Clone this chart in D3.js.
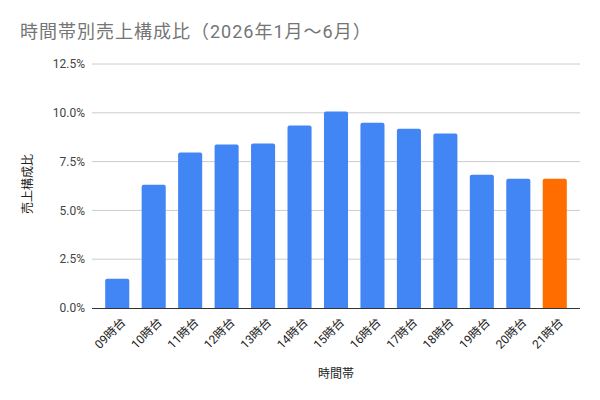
<!DOCTYPE html>
<html>
<head>
<meta charset="utf-8">
<script src="https://cdn.jsdelivr.net/npm/d3@7"></script>
<style>
  body { margin: 0; background: #fff; }
  svg { font-family: Roboto, "Noto Sans CJK JP", sans-serif; }
</style>
</head>
<body>
<div id="chart"></div>
<script>
// --- Données ---
const hours = ["09時台", "10時台", "11時台", "12時台", "13時台", "14時台", "15時台",
               "16時台", "17時台", "18時台", "19時台", "20時台", "21時台"];
const shares = [1.5, 6.31, 7.96, 8.37, 8.43, 9.35, 10.07, 9.49, 9.18, 8.94, 6.82, 6.62, 6.62];
const highlight = "21時台";
const yTicks = [0, 2.5, 5, 7.5, 10, 12.5];

const W = 600, H = 400;
const plot = { left: 92, right: 580, top: 64, bottom: 308 };

const svg = d3.select("#chart").append("svg")
  .attr("width", W).attr("height", H);

const x = d3.scaleBand()
  .domain(hours)
  .range([99, 573])
  .paddingInner(0.34)
  .paddingOuter(0.17);

const y = d3.scaleLinear()
  .domain([0, 12.5])
  .range([plot.bottom, plot.top]);

// Grille
svg.append("g")
  .selectAll("line")
  .data(yTicks.filter(d => d > 0))
  .join("line")
  .attr("x1", plot.left).attr("x2", plot.right)
  .attr("y1", d => y(d)).attr("y2", d => y(d))
  .attr("stroke", "#cccccc").attr("stroke-width", 1);

// Labels axe Y
svg.append("g")
  .selectAll("text")
  .data(yTicks)
  .join("text")
  .attr("x", 85)
  .attr("y", d => y(d))
  .attr("dy", "0.35em")
  .attr("text-anchor", "end")
  .style("font-size", "12px")
  .attr("fill", "#444")
  .text(d => d.toFixed(1) + "%");

// Barres
svg.append("g")
  .selectAll("path")
  .data(hours.map((h, i) => ({ h, v: shares[i] })))
  .join("path")
  .attr("d", d => {
    const x0 = x(d.h), w = x.bandwidth(), y0 = y(d.v), b = y(0), r = 2;
    return `M${x0},${b}V${y0 + r}Q${x0},${y0} ${x0 + r},${y0}H${x0 + w - r}Q${x0 + w},${y0} ${x0 + w},${y0 + r}V${b}Z`;
  })
  .attr("fill", d => d.h === highlight ? "#ff6d01" : "#4285f4");

// Ligne de base
svg.append("line")
  .attr("x1", plot.left).attr("x2", plot.right)
  .attr("y1", y(0) + 0.5).attr("y2", y(0) + 0.5)
  .attr("stroke", "#333").attr("stroke-width", 1);

// Labels axe X
svg.append("g")
  .selectAll("text")
  .data(hours)
  .join("text")
  .attr("transform", d => `translate(${x(d) + x.bandwidth() / 2 + 6},${320}) rotate(-45)`)
  .attr("text-anchor", "end")
  .attr("dy", "0.35em")
  .style("font-size", "12px")
  .attr("fill", "#222")
  .text(d => d);

// Titres des axes
svg.append("text")
  .attr("x", 336).attr("y", 378)
  .attr("text-anchor", "middle")
  .style("font-size", "12px")
  .attr("fill", "#222")
  .text("時間帯");

svg.append("text")
  .attr("transform", `translate(32,${y(6.25) - 2}) rotate(-90)`)
  .attr("text-anchor", "middle")
  .style("font-size", "12px")
  .attr("fill", "#222")
  .text("売上構成比");

// Titre
svg.append("text")
  .attr("x", 20).attr("y", 38)
  .style("font-size", "18px")
  .style("letter-spacing", "1px")
  .attr("fill", "#757575")
  .text("時間帯別売上構成比（2026年1月～6月）");
</script>
</body>
</html>
